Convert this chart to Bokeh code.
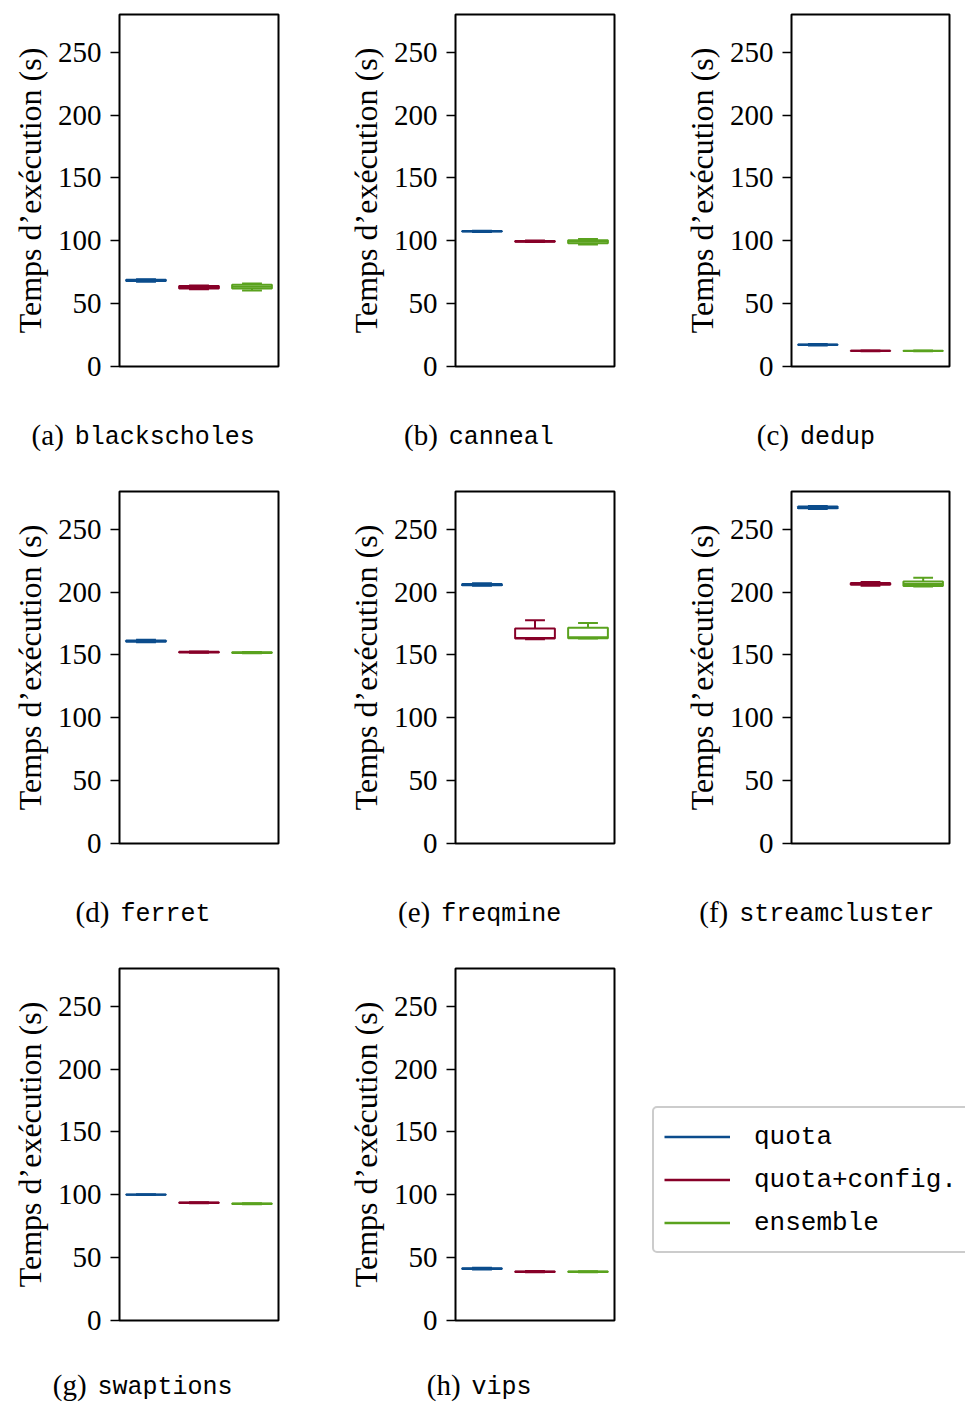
from bokeh.plotting import figure
from bokeh.models import ColumnDataSource, Legend, LegendItem, FixedTicker, Range1d
from bokeh.layouts import column, row
from bokeh.core.properties import value
from bokeh.embed import file_html
from bokeh.resources import INLINE

# ---------------- data ----------------
benchmarks = ["blackscholes", "canneal", "dedup", "ferret", "freqmine",
              "streamcluster", "swaptions", "vips"]
letters = ["a", "b", "c", "d", "e", "f", "g", "h"]
series = ["quota", "quota+config.", "ensemble"]
colors = ["#0b4c8c", "#870028", "#5aa21e"]
yticks = [0, 50, 100, 150, 200, 250]

# box statistics per series, one value per benchmark
quota_lo  = [67.5, 107.0, 16.8, 160.0, 205.0, 266.0, 99.8, 40.5]
quota_q1  = [68.0, 107.3, 17.1, 160.5, 205.5, 266.7, 100.0, 41.0]
quota_med = [68.5, 107.5, 17.3, 161.0, 206.0, 267.3, 100.1, 41.2]
quota_q3  = [69.0, 107.8, 17.5, 161.5, 206.5, 268.0, 100.2, 41.5]
quota_hi  = [69.5, 108.0, 17.8, 162.0, 207.0, 268.5, 100.4, 42.0]

qc_lo  = [61.5, 99.0, 12.2, 151.8, 162.5, 205.0, 93.3, 38.3]
qc_q1  = [62.0, 99.3, 12.4, 152.0, 163.0, 205.8, 93.5, 38.6]
qc_med = [63.0, 99.5, 12.5, 152.3, 163.5, 206.5, 93.7, 38.8]
qc_q3  = [64.0, 99.8, 12.6, 152.5, 171.0, 207.2, 93.9, 39.0]
qc_hi  = [64.5, 100.3, 12.8, 152.8, 177.5, 208.0, 94.1, 39.3]

ens_lo  = [60.5, 97.0, 12.2, 151.3, 163.0, 204.5, 92.5, 38.3]
ens_q1  = [62.0, 98.0, 12.3, 151.6, 163.3, 204.8, 92.7, 38.5]
ens_med = [63.5, 99.5, 12.4, 151.8, 164.0, 206.5, 92.9, 38.7]
ens_q3  = [65.0, 100.5, 12.6, 152.1, 171.6, 208.5, 93.1, 38.9]
ens_hi  = [66.0, 101.5, 12.7, 152.4, 175.4, 211.4, 93.3, 39.1]

stats = [
    (quota_lo, quota_q1, quota_med, quota_q3, quota_hi),
    (qc_lo, qc_q1, qc_med, qc_q3, qc_hi),
    (ens_lo, ens_q1, ens_med, ens_q3, ens_hi),
]

# ---------------- style / layout ----------------
SERIF = "Liberation Serif"
MONO = "Liberation Mono"
BOX_W = 0.75
CAP_W = 0.375
LW = 2

TOTAL_W = 965
COL_W = [344, 336, 285]
COL_LEFT = [119, 111, 110]
FRAME_W, FRAME_H = 159, 352
TOP_B = [14, 6, 6]
BOT_B = 20
CAP_H = [99, 99, 62]
CAP_Y = [49, 49, 45]
COL_CENTER = [142.5, 478.5, 814.5]


def make_panel(idx, width, left, top):
    height = top + FRAME_H + BOT_B
    p = figure(width=width, height=height,
               x_range=Range1d(0.5, 3.5), y_range=Range1d(0, 280),
               output_backend="svg", toolbar_location=None,
               min_border_left=left, min_border_right=width - left - FRAME_W,
               min_border_top=top, min_border_bottom=BOT_B)
    p.xgrid.visible = False
    p.ygrid.visible = False
    p.xaxis.visible = False
    p.outline_line_color = "black"
    p.outline_line_width = 2
    p.outline_line_alpha = 1
    p.background_fill_color = "white"
    p.border_fill_color = "white"

    ax = p.yaxis[0]
    ax.ticker = FixedTicker(ticks=yticks)
    ax.axis_line_color = None
    ax.major_tick_out = 9
    ax.major_tick_in = 0
    ax.major_tick_line_width = 1.5
    ax.major_tick_line_color = "black"
    ax.minor_tick_line_color = None
    ax.major_label_standoff = 9
    ax.major_label_text_font = SERIF
    ax.major_label_text_font_size = "29px"
    ax.major_label_text_color = "black"
    ax.axis_label = "Temps d\u2019ex\u00e9cution (s)"
    ax.axis_label_text_font = SERIF
    ax.axis_label_text_font_size = "32px"
    ax.axis_label_text_font_style = "normal"
    ax.axis_label_text_color = "black"
    ax.axis_label_standoff = 7

    for k in range(3):
        lo, q1, med, q3, hi = (s[idx] for s in stats[k])
        x = k + 1
        src = ColumnDataSource(dict(
            x=[x], lo=[lo], q1=[q1], med=[med], q3=[q3], hi=[hi],
            bl=[x - BOX_W / 2], br=[x + BOX_W / 2],
            cl=[x - CAP_W / 2], cr=[x + CAP_W / 2]))
        c = colors[k]
        p.quad(left="bl", right="br", bottom="q1", top="q3", source=src,
               fill_color="white", line_color=c, line_width=LW)
        p.segment(x0="x", y0="q3", x1="x", y1="hi", source=src, line_color=c, line_width=LW)
        p.segment(x0="x", y0="q1", x1="x", y1="lo", source=src, line_color=c, line_width=LW)
        p.segment(x0="cl", y0="hi", x1="cr", y1="hi", source=src, line_color=c, line_width=LW)
        p.segment(x0="cl", y0="lo", x1="cr", y1="lo", source=src, line_color=c, line_width=LW)
        p.segment(x0="bl", y0="med", x1="br", y1="med", source=src, line_color=c, line_width=LW)
    return p


def make_caption_row(indices, h, yc):
    p = figure(width=TOTAL_W, height=h, x_range=Range1d(0, TOTAL_W),
               y_range=Range1d(h, 0), output_backend="svg", toolbar_location=None,
               min_border=0)
    p.axis.visible = False
    p.grid.visible = False
    p.outline_line_color = None
    px, ptxt, nx, ntxt = [], [], [], []
    for j, idx in enumerate(indices):
        name = benchmarks[idx]
        total = 46 + 15.2 * len(name)
        xa = COL_CENTER[j] - total / 2 + 35
        px.append(xa)
        ptxt.append("(" + letters[idx] + ")")
        nx.append(xa + 11)
        ntxt.append(name)
    p.text(x=px, y=[yc - 1] * len(px), text=ptxt, text_align="right",
           text_baseline="middle", text_font=value(SERIF),
           text_font_size="29px", text_color="black")
    p.text(x=nx, y=[yc + 2] * len(nx), text=ntxt, text_align="left",
           text_baseline="middle", text_font=value(MONO),
           text_font_size="25px", text_color="black")
    return p


blocks = []
# rows 1 and 2
for ri in range(2):
    figs = [make_panel(ri * 3 + ci, COL_W[ci], COL_LEFT[ci], TOP_B[ri]) for ci in range(3)]
    blocks.append(row(*figs, spacing=0))
    blocks.append(make_caption_row([ri * 3, ri * 3 + 1, ri * 3 + 2], CAP_H[ri], CAP_Y[ri]))

# row 3: two panels and the legend
p_g = make_panel(6, COL_W[0], COL_LEFT[0], TOP_B[2])
VIPS_W = 307
p_h = make_panel(7, VIPS_W, COL_LEFT[1], TOP_B[2])

LEG_W = TOTAL_W - COL_W[0] - VIPS_W
LEG_H = TOP_B[2] + FRAME_H + BOT_B
p_leg = figure(width=LEG_W, height=LEG_H, x_range=Range1d(0, 1), y_range=Range1d(0, 1),
               output_backend="svg", toolbar_location=None, min_border=0)
p_leg.axis.visible = False
p_leg.grid.visible = False
p_leg.outline_line_color = None
nan = float("nan")
leg_renderers = []
for k in range(3):
    r = p_leg.segment(x0=[nan], y0=[nan], x1=[nan], y1=[nan],
                      line_color=colors[k], line_width=2.5)
    leg_renderers.append(r)
legend = Legend(items=[LegendItem(label=series[k], renderers=[leg_renderers[k]]) for k in range(3)],
                location=(1, 67), margin=0, padding=10, spacing=6,
                glyph_width=66, glyph_height=37, label_height=37,
                label_standoff=24, label_text_font=MONO, label_text_font_size="26px",
                label_text_color="black",
                border_line_color="#cccccc", border_line_width=2, border_line_alpha=1,
                background_fill_color="white", background_fill_alpha=1)
if "border_radius" in Legend.properties():
    legend.border_radius = 5
p_leg.add_layout(legend)

blocks.append(row(p_g, p_h, p_leg, spacing=0))
blocks.append(make_caption_row([6, 7], CAP_H[2], CAP_Y[2]))

layout = column(*blocks, spacing=0)
open("out.html", "w").write(file_html(layout, INLINE))
